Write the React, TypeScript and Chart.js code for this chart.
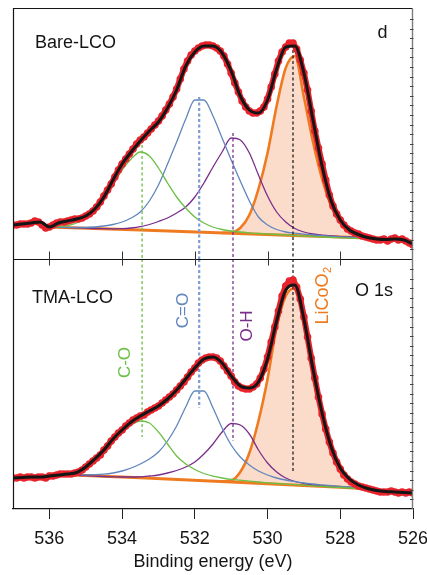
import { useEffect, useRef } from "react";
import { Chart, registerables } from "chart.js";

Chart.register(...registerables);

const FONT = '"Liberation Sans", Arial, Helvetica, sans-serif';

// Measured O 1s spectra, 0.1 eV steps from 537.0 eV down to 526.0 eV
const RAW_START = 537.0;
const RAW_STEP = 0.1;
const bareRaw = [
  34, 34, 35, 35, 35, 36, 38, 37, 34, 31,
  32, 34, 36, 37, 37, 38, 39, 40, 40, 41,
  43, 45, 48, 52, 57, 63, 69, 75, 82, 89,
  95, 100, 105, 110, 115, 119, 122, 126, 130, 134,
  138, 143, 149, 155, 162, 170, 180, 190, 198, 204,
  208, 211, 213, 214, 214, 213, 211, 208, 203, 195,
  186, 176, 167, 158, 152, 148, 146, 146, 148, 152,
  160, 172, 185, 198, 207, 212, 216, 216, 210, 199,
  186, 169, 148, 128, 111, 95, 79, 64, 53, 45,
  39, 34, 30, 28, 26, 25, 23, 22, 21, 20,
  19, 19, 20, 18, 20, 21, 19, 20, 18, 16, 14,
];
const tmaRaw = [
  31, 31, 32, 31, 32, 32, 31, 32, 32, 31,
  33, 33, 34, 35, 35, 35, 35, 36, 37, 39,
  42, 45, 48, 51, 54, 59, 63, 68, 72, 76,
  79, 83, 86, 89, 91, 93, 94, 97, 99, 101,
  103, 106, 109, 112, 115, 119, 123, 127, 132, 137,
  141, 146, 149, 151, 152, 152, 151, 148, 143, 138,
  133, 127, 123, 121, 120, 120, 122, 125, 131, 140,
  152, 167, 182, 198, 213, 223, 228, 229, 222, 210,
  192, 172, 151, 131, 112, 95, 80, 67, 56, 47,
  40, 34, 30, 27, 25, 23, 22, 21, 20, 19,
  18, 17, 17, 17, 18, 17, 16, 17, 16, 17, 16,
];

// Fitted envelopes, 0.25 eV steps from 537.0 eV down to 526.0 eV
const FIT_START = 537.0;
const FIT_STEP = 0.25;
const bareFit = [
  34, 35, 36, 37, 32, 36, 38, 40, 43, 50, 62, 79, 95, 107, 118, 128, 137, 151,
  169, 193, 207, 213, 213, 206, 188, 163, 149, 146, 159, 190, 212, 213, 186, 139,
  93, 58, 39, 29, 24.5, 21.5, 20, 19.5, 20, 19, 15,
];
const tmaFit = [
  31, 31.5, 32, 32, 33, 34, 35, 36.5, 42, 50, 59, 70, 79, 87, 93, 98, 103, 110,
  119, 130, 141, 150, 152, 146, 133, 123, 121, 127, 150, 188, 219, 224, 190, 140,
  96, 62, 41, 30, 24, 20.5, 18.5, 17.5, 17, 16.5, 16,
];

// Fitted components, 0.25 eV steps from 536.00 eV down to 527.50 eV
const COMP_START = 536.0;
const COMP_STEP = 0.25;
const bareCO = [
  32.2, 32.5, 33.5, 36, 40.5, 48.5, 60, 75, 89, 100, 107, 103, 91, 76, 62, 51, 42, 36,
  32, 29.5, 28, 27, 26.2, 25.5, 25, 24.5, 24, 23.5, 23, 22.5, 22, 21.6, 21.2, 20.8, 20.5,
];
const bareCdO = [
  32, 31.8, 31.6, 31.5, 31.5, 32, 33, 34.5, 37, 41, 47, 58, 74, 95, 117, 140, 159, 159,
  143, 121, 99, 78, 58, 42, 34, 29.5, 27, 25.8, 24.8, 24, 23.3, 22.7, 22.2, 21.8, 21.4,
];
const bareOH = [
  32, 31.7, 31.4, 31.1, 30.8, 30.5, 30.3, 30.2, 30.3, 31, 32.3, 34.5, 37.5, 41, 46, 52, 62, 76,
  92, 107, 121, 119, 106, 84, 63, 47, 37, 30.5, 27, 25, 23.8, 23, 22.4, 22, 21.6,
];
const tmaCO = [
  35.2, 35.3, 35.6, 37, 41, 48, 57, 67, 76, 84, 88, 86, 77, 65, 53, 45, 39.5, 35.5,
  32.8, 31, 29.7, 28.8, 27.8, 27, 26.2, 25.5, 24.9, 24.3, 23.8, 23.2, 22.6, 22, 21.5, 21, 20.5,
];
const tmaCdO = [
  35.1, 34.8, 34.6, 34.4, 34.2, 34.3, 34.8, 36, 38, 41, 45, 50, 57, 68, 83, 102, 118, 118,
  101, 81, 64, 52, 44, 38, 34, 31, 29, 27.5, 26, 25, 24.2, 23.4, 22.6, 22, 21.2,
];
const tmaOH = [
  35, 34.6, 34.2, 33.7, 33.3, 32.9, 32.5, 32.2, 32, 32, 32.2, 33, 34, 36, 38.5, 42, 47, 55,
  65, 77, 85.5, 84, 75, 59, 46, 37, 31, 27.5, 25.5, 24, 23.2, 22.5, 22, 21.5, 21,
];

// Lattice oxygen (LiCoO2) component, 0.25 eV steps from 531.25 eV down to 527.25 eV
const LCO_START = 531.25;
const LCO_STEP = 0.25;
const bareLiCoO2 = [26.1, 26.5, 31, 44, 70, 106, 153, 191, 203, 162, 117, 80, 53, 38, 29.5, 25, 22.5];
const tmaLiCoO2 = [27.6, 28.5, 37, 56, 88, 130, 182, 213, 221, 187, 135, 90, 57, 38, 28, 23, 21];

// Background under the fit
const bgEnergy = [536.05, 533.5, 531.0, 529.3, 528.0, 527.4];
const bareBg = [32, 28.9, 25.8, 23.6, 22, 21.2];
const tmaBg = [35, 31.2, 27, 24, 21.8, 20.6];

// Component positions (C-O, C=O, O-H, LiCoO2) and the extent of their markers
const markEnergy = [533.45, 531.88, 530.95, 529.3];
const markBareTop = [114, 162, 126, 209];
const markTmaEnd = [72, 101, 68, 36];

const xTicks = [536, 534, 532, 530, 528, 526];

const TOP_MAX = 251;
const BOT_MAX = 250;

const RED = "#e8232b";
const GREEN = "#6cbf45";
const BLUE = "#6086bd";
const BLUE_MARK = "#7b9dcf";
const PURPLE = "#7a2e8c";
const ORANGE = "#ef7b21";
const PEACH = "#fbdccb";
const INK = "#151515";

type Pt = { x: number; y: number };

const onGrid = (start: number, step: number, values: number[]): Pt[] =>
  values.map((y, i) => ({ x: Math.round((start - i * step) * 100) / 100, y }));

const pairs = (xs: number[], ys: number[]): Pt[] => xs.map((x, i) => ({ x, y: ys[i] }));

const markColors = [GREEN, BLUE_MARK, PURPLE, "#222"];
const markWidths = [1.3, 2.2, 1.3, 1.3];

function buildDatasets() {
  const sets: any[] = [];
  const panels = [
    { axis: "yTop", raw: bareRaw, fit: bareFit, co: bareCO, cdo: bareCdO, oh: bareOH, lco: bareLiCoO2, bg: bareBg },
    { axis: "yBot", raw: tmaRaw, fit: tmaFit, co: tmaCO, cdo: tmaCdO, oh: tmaOH, lco: tmaLiCoO2, bg: tmaBg },
  ];
  panels.forEach((p, pi) => {
    const line = { yAxisID: p.axis, pointRadius: 0, pointHoverRadius: 0, clip: 0 } as any;
    sets.push({ ...line, data: onGrid(FIT_START, FIT_STEP, p.fit), borderColor: INK, borderWidth: 3, cubicInterpolationMode: "monotone", order: 0 });
    sets.push({
      ...line, data: onGrid(RAW_START, RAW_STEP, p.raw), borderColor: RED, borderWidth: 6,
      pointRadius: 3.8, pointBackgroundColor: RED, pointBorderWidth: 0, order: 1,
    });
    markEnergy.forEach((e, i) => {
      const seg = pi === 0
        ? [{ x: e, y: markBareTop[i] }, { x: e, y: 0 }]
        : [{ x: e, y: BOT_MAX }, { x: e, y: markTmaEnd[i] }];
      sets.push({ ...line, data: seg, borderColor: markColors[i], borderWidth: markWidths[i], borderDash: [3, 2.5], order: 2 });
    });
    sets.push({ ...line, data: onGrid(COMP_START, COMP_STEP, p.co), borderColor: GREEN, borderWidth: 1.3, cubicInterpolationMode: "monotone", order: 3 });
    sets.push({ ...line, data: onGrid(COMP_START, COMP_STEP, p.cdo), borderColor: BLUE, borderWidth: 1.3, cubicInterpolationMode: "monotone", order: 3 });
    sets.push({ ...line, data: onGrid(COMP_START, COMP_STEP, p.oh), borderColor: PURPLE, borderWidth: 1.3, cubicInterpolationMode: "monotone", order: 3 });
    const lcoIndex = sets.length;
    sets.push({
      ...line, data: onGrid(LCO_START, LCO_STEP, p.lco), borderColor: ORANGE, borderWidth: 2.6,
      cubicInterpolationMode: "monotone", order: 4,
      fill: { target: lcoIndex + 1, above: PEACH, below: PEACH },
    });
    sets.push({ ...line, data: pairs(bgEnergy, p.bg), borderColor: ORANGE, borderWidth: 3, order: 5 });
  });
  return sets;
}

function rotated(ctx: CanvasRenderingContext2D, text: string, x: number, y: number, color: string, size: number, sub?: string) {
  ctx.save();
  ctx.translate(x, y);
  ctx.rotate(-Math.PI / 2);
  ctx.fillStyle = color;
  ctx.textBaseline = "middle";
  const main = `${size}px ${FONT}`;
  const small = `${Math.round(size * 0.62)}px ${FONT}`;
  ctx.font = main;
  if (!sub) {
    ctx.textAlign = "center";
    ctx.fillText(text, 0, 0);
  } else {
    const w = ctx.measureText(text).width;
    ctx.font = small;
    const ws = ctx.measureText(sub).width;
    const x0 = -(w + ws) / 2;
    ctx.textAlign = "left";
    ctx.font = main;
    ctx.fillText(text, x0, 0);
    ctx.font = small;
    ctx.fillText(sub, x0 + w + 0.5, 5);
  }
  ctx.restore();
}

const framePlugin = {
  id: "xpsFrame",
  afterDraw(chart: any) {
    const { ctx, chartArea: a, scales } = chart;
    const xs = scales.x;
    const yT = scales.yTop;
    const yB = scales.yBot;
    const div = Math.round(yT.bottom) + 0.5;
    const L = Math.round(a.left) + 0.5;
    const R = Math.round(a.right) - 0.5;
    const T = Math.round(a.top) + 0.5;
    const B = Math.round(a.bottom);
    ctx.save();
    ctx.lineWidth = 1.2;
    ctx.strokeStyle = INK;
    ctx.beginPath();
    ctx.moveTo(L, B);
    ctx.lineTo(L, T);
    ctx.lineTo(R, T);
    ctx.moveTo(L, div);
    ctx.lineTo(R, div);
    ctx.stroke();
    // panel separator ticks
    ctx.lineWidth = 1;
    ctx.strokeStyle = "#333";
    ctx.beginPath();
    xTicks.forEach((v) => {
      const px = Math.round(xs.getPixelForValue(v)) + 0.5;
      if (px > R - 2) return;
      ctx.moveTo(px, div - 8);
      ctx.lineTo(px, div + 6);
    });
    ctx.stroke();
    // right-hand intensity axis with fine ticks
    ctx.strokeStyle = "#7d7d7d";
    ctx.lineWidth = 1.4;
    ctx.beginPath();
    ctx.moveTo(R, T);
    ctx.lineTo(R, B);
    ctx.stroke();
    ctx.strokeStyle = "#444";
    ctx.lineWidth = 1;
    ctx.beginPath();
    [yT, yB].forEach((sc: any) => {
      for (let v = 9.6; v < sc.max - 2; v += 9.6) {
        const py = Math.round(sc.getPixelForValue(v)) + 0.5;
        ctx.moveTo(R - 2.5, py);
        ctx.lineTo(R + 1, py);
      }
    });
    ctx.stroke();

    // panel captions
    ctx.fillStyle = INK;
    ctx.font = `18px ${FONT}`;
    ctx.textBaseline = "middle";
    ctx.textAlign = "left";
    ctx.fillText("Bare-LCO", a.left + 22, yT.getPixelForValue(215.5));
    ctx.fillText("TMA-LCO", a.left + 19, yB.getPixelForValue(210.5));
    ctx.fillText("O 1s", a.right - 58, yB.getPixelForValue(217.5));
    ctx.textAlign = "center";
    ctx.fillText("d", a.right - 30.5, yT.getPixelForValue(226));

    // component names
    const at = (e: number, v: number) => [xs.getPixelForValue(e), yB.getPixelForValue(v)];
    let p = at(533.9, 146.5);
    rotated(ctx, "C-O", p[0], p[1], GREEN, 17);
    p = at(532.33, 198.5);
    rotated(ctx, "C=O", p[0], p[1], BLUE, 17);
    p = at(530.565, 183);
    rotated(ctx, "O-H", p[0], p[1], PURPLE, 17);
    p = at(528.47, 213);
    rotated(ctx, "LiCoO", p[0], p[1], ORANGE, 18, "2");
    ctx.restore();
  },
};

export default function App() {
  const ref = useRef<HTMLCanvasElement>(null);
  useEffect(() => {
    if (!ref.current) return;
    const chart = new Chart(ref.current, {
      type: "line",
      data: { datasets: buildDatasets() },
      options: {
        animation: false,
        responsive: false,
        devicePixelRatio: 1,
        events: [],
        layout: { padding: { left: 13, right: 14, top: 8, bottom: 0 } },
        plugins: {
          legend: { display: false },
          tooltip: { enabled: false },
          filler: { drawTime: "beforeDatasetsDraw" },
        } as any,
        scales: {
          x: {
            type: "linear",
            reverse: true,
            min: 526,
            max: 537,
            afterFit: (s: any) => {
              // fixed axis band; edge labels may overhang the plot frame
              s.height = 66;
              s.paddingLeft = 0;
              s.paddingRight = 0;
            },
            afterBuildTicks: (s: any) => {
              s.ticks = xTicks.map((value) => ({ value }));
            },
            ticks: {
              color: INK,
              font: { family: FONT, size: 18 },
              padding: 9,
              maxRotation: 0,
              autoSkip: false,
              includeBounds: false,
            },
            grid: { drawOnChartArea: false, drawTicks: true, tickLength: 10, color: "#222", lineWidth: 1 },
            border: { display: true, color: INK, width: 1.2 },
            title: {
              display: true,
              text: "Binding energy (eV)",
              color: INK,
              font: { family: FONT, size: 18 },
              padding: { top: 0, bottom: 2 },
            },
          },
          // stacked panels: the later-listed axis is placed on top
          yBot: { type: "linear", display: false, stack: "panels", stackWeight: BOT_MAX, min: 0, max: BOT_MAX },
          yTop: { type: "linear", display: false, stack: "panels", stackWeight: TOP_MAX, min: 0, max: TOP_MAX },
        } as any,
      },
      plugins: [framePlugin],
    });
    return () => chart.destroy();
  }, []);
  return (
    <div style={{ position: "absolute", left: 0, top: 0, width: 427, height: 575, background: "#fff" }}>
      <canvas ref={ref} width={427} height={575} style={{ display: "block" }} />
    </div>
  );
}
